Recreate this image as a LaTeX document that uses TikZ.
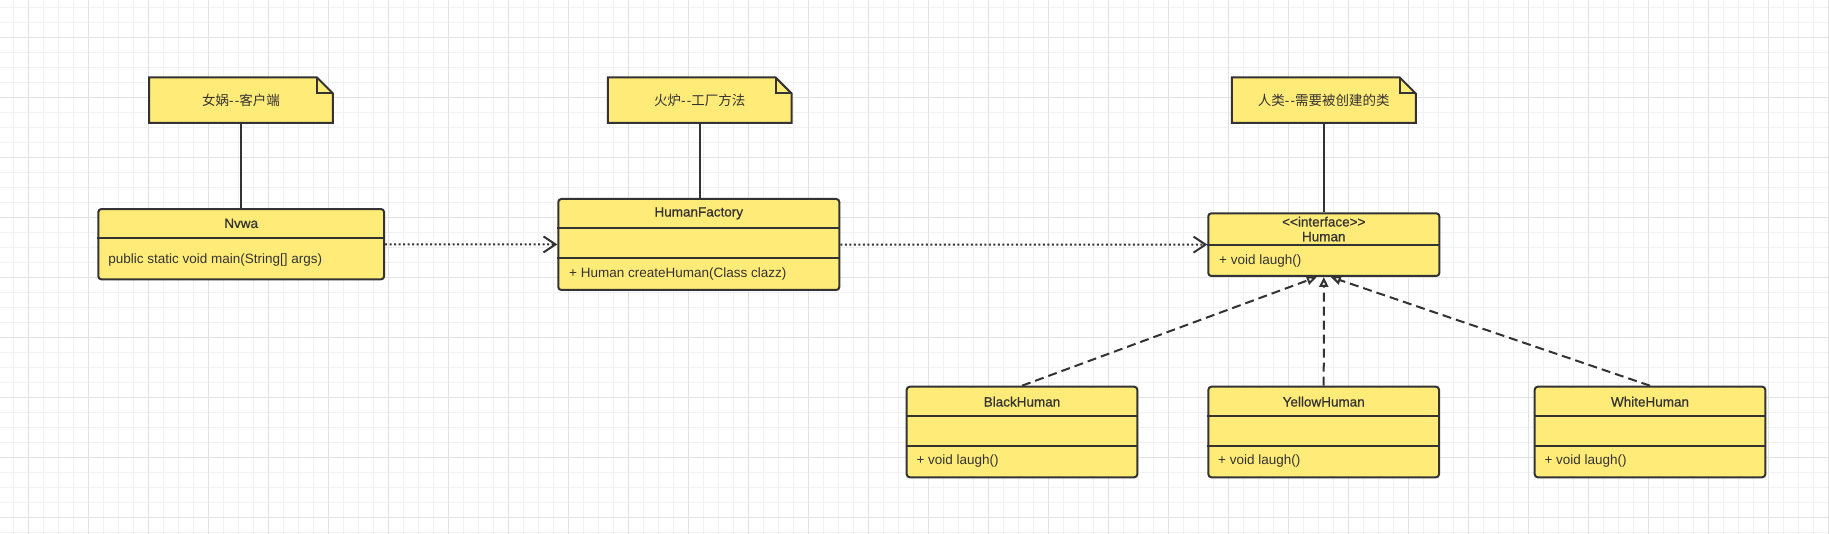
\documentclass[tikz,border=0pt]{standalone}
\usepackage{fontspec}
\setmainfont{Liberation Sans}
\newfontfamily\titlefont{Liberation Sans}[FakeBold=0.7]
\newfontfamily\cjkfont{Noto Sans CJK SC}
\usetikzlibrary{arrows.meta}
\definecolor{umlyellow}{RGB}{255,235,120}
\definecolor{umldark}{RGB}{51,51,51}
\definecolor{gridminor}{RGB}{241,241,241}
\definecolor{gridmajor}{RGB}{226,226,226}
\newcommand\umlfont{\fontsize{13.5pt}{15pt}\selectfont}
\newcommand\notedash{{\rmfamily-\kern1.2pt-}}
\pgfdeclarelayer{grid}
\pgfdeclarelayer{back}
\pgfsetlayers{grid,back,main}
\begin{document}
\begin{tikzpicture}[x=1pt, y=-1pt,
    box/.style={draw=umldark, line width=2pt, fill=umlyellow,
        rounded corners=3pt, inner sep=0pt},
    txt/.style={text=umldark, inner sep=0pt, font=\umlfont},
    ttl/.style={txt, font=\umlfont\titlefont},
    sep/.style={draw=umldark, line width=2pt},
    note/.style={minimum width=183.5pt, minimum height=45pt,
        inner sep=0pt, text=umldark, font=\umlfont\cjkfont},
    notebox/.style={draw=umldark, line width=2pt, fill=umlyellow},
    link/.style={draw=umldark, line width=1.6pt},
    dep/.style={draw=umldark, line width=2pt, dash pattern=on 2pt off 2.5pt,
        -{Straight Barb[length=12pt, width=16pt]}},
    impl/.style={draw=umldark, line width=2pt, dash pattern=on 9pt off 5pt,
        -{Triangle[open, length=10pt, width=9pt, fill=white]}}]
    \useasboundingbox (0,0) rectangle (1829,534);
    \begin{pgfonlayer}{grid}
        \fill[white] (0,0) rectangle (1829,534);
        \foreach \i in {0,...,121}
            \draw[gridminor, line width=1pt] ({13.3+15*\i},0) -- ({13.3+15*\i},534);
        \foreach \i in {0,...,35}
            \draw[gridminor, line width=1pt] (0,{7.3+15*\i}) -- (1829,{7.3+15*\i});
        \foreach \i in {0,...,30}
            \draw[gridmajor, line width=1pt] ({28.3+60*\i},0) -- ({28.3+60*\i},534);
        \foreach \i in {0,...,8}
            \draw[gridmajor, line width=1pt] (0,{37.3+60*\i}) -- (1829,{37.3+60*\i});
    \end{pgfonlayer}

    % notes
    \node[note] (note1) at (241,100.2) {女娲\notedash 客户端};
    \node[note] (note2) at (699.7,100.2) {火炉\notedash 工厂方法};
    \node[note] (note3) at (1323.8,100.2) {人类\notedash 需要被创建的类};
    \begin{pgfonlayer}{back}
        \foreach \n in {note1,note2,note3} {
            \filldraw[notebox] (\n.south west) |- ([xshift=-16pt]\n.north east)
                -- ([yshift=-16pt]\n.north east) |- cycle;
            \draw[notebox, fill=none] ([xshift=-16pt]\n.north east)
                -- ++(0pt,-16pt) -- ++(16pt,0pt);
        }
    \end{pgfonlayer}

    % classes
    \node[box, minimum width=285.7pt, minimum height=70.3pt] (Nvwa) at (241.2,244.2) {};
    \node[ttl] (Nvwa-t) at ([yshift=-15.3pt]Nvwa.north) {Nvwa};
    \draw[sep] ([yshift=-30.3pt]Nvwa.north west) -- ([yshift=-30.3pt]Nvwa.north east);
    \node[txt, anchor=west] (Nvwa-m) at ([xshift=10.7pt, yshift=-52pt]Nvwa.north west)
        {public static void main(String[] args)};

    \node[box, minimum width=281pt, minimum height=91pt] (HumanFactory) at (698.8,244.5) {};
    \node[ttl] (HumanFactory-t) at ([yshift=-15.3pt]HumanFactory.north) {HumanFactory};
    \draw[sep] ([yshift=-30pt]HumanFactory.north west) -- ([yshift=-30pt]HumanFactory.north east);
    \draw[sep] ([yshift=-60.3pt]HumanFactory.north west) -- ([yshift=-60.3pt]HumanFactory.north east);
    \node[txt, anchor=west] (HumanFactory-m) at ([xshift=11.7pt, yshift=-76pt]HumanFactory.north west)
        {+ Human createHuman(Class clazz)};

    \node[box, minimum width=231pt, minimum height=62.7pt] (Human) at (1323.8,244.65) {};
    \node[ttl] (Human-s) at ([yshift=-9.4pt]Human.north) {{<}{<}interface{>}{>}};
    \node[ttl] (Human-t) at ([yshift=-24.4pt]Human.north) {Human};
    \draw[sep] ([yshift=-32.7pt]Human.north west) -- ([yshift=-32.7pt]Human.north east);
    \node[txt, anchor=west] (Human-m) at ([xshift=11.7pt, yshift=-49pt]Human.north west)
        {+ void laugh()};

    \foreach \nm/\cx in {BlackHuman/1022, YellowHuman/1323.7, WhiteHuman/1650} {
        \node[box, minimum width=230.6pt, minimum height=90.6pt] (\nm) at (\cx,432) {};
        \node[ttl] (\nm-t) at ([yshift=-16pt]\nm.north) {\nm};
        \draw[sep] ([yshift=-30pt]\nm.north west) -- ([yshift=-30pt]\nm.north east);
        \draw[sep] ([yshift=-60.6pt]\nm.north west) -- ([yshift=-60.6pt]\nm.north east);
        \node[txt, anchor=west] (\nm-m) at ([xshift=10.6pt, yshift=-75.6pt]\nm.north west)
            {+ void laugh()};
    }

    % connectors
    \draw[link] (note1.south) -- (note1.south |- Nvwa.north);
    \draw[link] (note2.south) -- (note2.south |- HumanFactory.north);
    \draw[link] (note3.south) -- (note3.south |- Human.north);
    \draw[dep] (Nvwa) -- (HumanFactory);
    \draw[dep] (HumanFactory) -- (Human);
    \draw[impl] (BlackHuman.north) -- ([xshift=-7pt]Human.south);
    \draw[impl] (YellowHuman) -- (Human);
    \draw[impl] (WhiteHuman.north) -- ([xshift=7pt]Human.south);
\end{tikzpicture}
\end{document}
